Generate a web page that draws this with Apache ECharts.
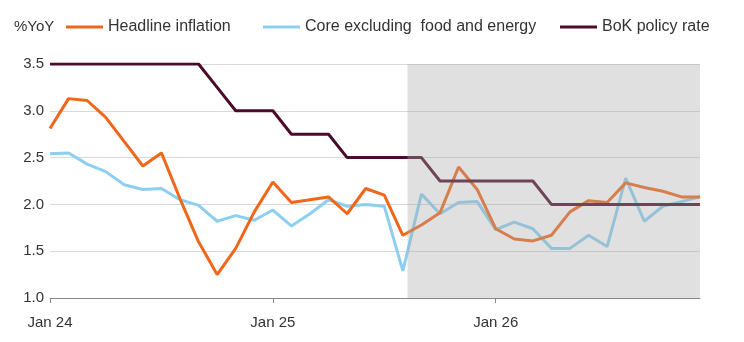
<!DOCTYPE html>
<html>
<head>
<meta charset="utf-8">
<script src="https://cdn.jsdelivr.net/npm/echarts@6/dist/echarts.min.js"></script>
<style>html,body{margin:0;padding:0;background:#fff}#c{width:744px;height:342px}</style>
</head>
<body>
<div id="c"></div>
<script>
const months = (function(){
  const m = ['Jan','Feb','Mar','Apr','May','Jun','Jul','Aug','Sep','Oct','Nov','Dec'];
  const out = [];
  ['24','25','26'].forEach(y => m.forEach(mm => out.push(mm + ' ' + y)));
  return out;
})();
const headline = [2.81,3.13,3.11,2.93,2.67,2.41,2.55,2.06,1.60,1.25,1.53,1.92,
                  2.24,2.02,2.05,2.08,1.90,2.17,2.10,1.67,1.78,1.91,2.40,2.16,
                  1.74,1.63,1.61,1.67,1.92,2.04,2.02,2.23,2.18,2.14,2.08,2.08];
const core =     [2.54,2.55,2.43,2.35,2.21,2.16,2.17,2.05,1.99,1.82,1.88,1.83,
                  1.94,1.77,1.90,2.05,1.98,2.00,1.98,1.29,2.11,1.90,2.02,2.03,
                  1.73,1.81,1.74,1.53,1.53,1.67,1.55,2.28,1.82,1.98,2.03,2.08];
const policy =   [3.5,3.5,3.5,3.5,3.5,3.5,3.5,3.5,3.5,3.25,3.0,3.0,
                  3.0,2.75,2.75,2.75,2.5,2.5,2.5,2.5,2.5,2.25,2.25,2.25,
                  2.25,2.25,2.25,2.0,2.0,2.0,2.0,2.0,2.0,2.0,2.0,2.0];
const forecastStart = 19.25; // month index where the shaded forecast period begins
const yTicks = [1.0,1.5,2.0,2.5,3.0,3.5];
const seriesNames = ['Headline inflation','Core excluding  food and energy','BoK policy rate'];
const colors = ['#f0661a','#8ccff0','#4c0b2b'];

const FONT = 'Liberation Sans, Arial, sans-serif';
const legendLefts = [66, 263, 560];
const legends = seriesNames.map((n, i) => ({
  data: [n], left: legendLefts[i], top: 19, padding: 0, itemWidth: 37, itemHeight: 3, icon: 'rect',
  textStyle: {fontFamily: FONT, fontSize: 16, color: '#333'}
}));
const chart = echarts.init(document.getElementById('c'), null, {renderer:'canvas'});
chart.setOption({
  animation: false,
  title: {text: '%YoY', left: 9, top: 14, textStyle: {fontFamily: FONT, fontSize: 15, fontWeight: 'normal', color: '#333'}},
  legend: legends,
  grid: {left: 50, right: 44, top: 64, bottom: 44, containLabel: false},
  xAxis: [{
    type: 'category', data: months, boundaryGap: false,
    axisLine: {lineStyle: {color: '#888', width: 1}},
    axisTick: {length: 5, lineStyle: {color: '#888'}, interval: (i) => i % 12 === 0},
    axisLabel: {interval: (i) => i % 12 === 0, fontFamily: FONT, fontSize: 15, color: '#333', margin: 17},
    splitLine: {show: false}
  }, {
    type: 'value', min: 0, max: months.length - 1, show: false
  }],
  yAxis: {
    type: 'value', min: yTicks[0], max: yTicks[yTicks.length-1], interval: 0.5,
    axisLine: {show: false}, axisTick: {show: false},
    axisLabel: {formatter: v => v.toFixed(1), fontFamily: FONT, fontSize: 15, color: '#333', margin: 6},
    splitLine: {lineStyle: {color: '#d8d8d8', width: 1}}
  },
  series: [
    {name: seriesNames[1], type: 'line', data: core, symbol: 'none', lineStyle: {width: 3, color: colors[1]}, itemStyle: {color: colors[1]}, z: 2},
    {name: seriesNames[0], type: 'line', data: headline, symbol: 'none', lineStyle: {width: 3, color: colors[0]}, itemStyle: {color: colors[0]}, z: 3},
    {name: seriesNames[2], type: 'line', data: policy, symbol: 'none', lineStyle: {width: 3, color: colors[2]}, itemStyle: {color: colors[2]}, z: 4},
    {name: 'forecast', type: 'line', xAxisIndex: 1, data: [], silent: true,
     markArea: {silent: true, z: 10, itemStyle: {color: 'rgba(170,170,170,0.36)'},
       data: [[{xAxis: forecastStart}, {xAxis: months.length - 1}]]}}
  ]
});
</script>
</body>
</html>
